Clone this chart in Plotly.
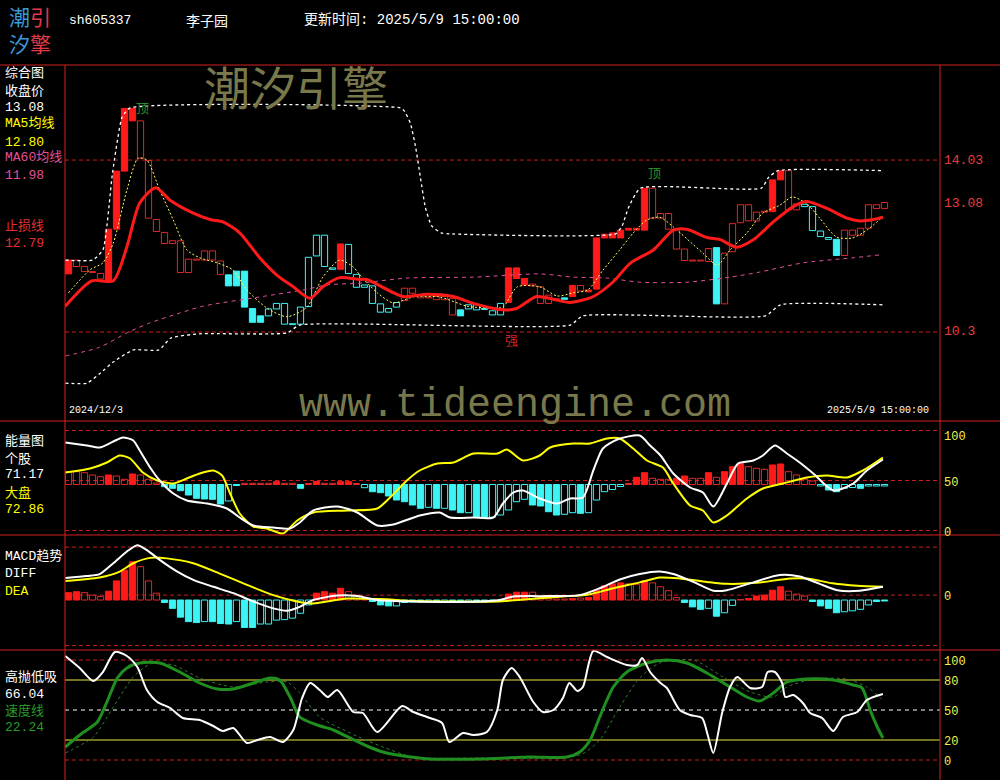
import plotly.graph_objects as go

# ---------------- data ----------------
stock_code = "sh605337"
stock_name = "李子园"
update_time = "2025/5/9 15:00:00"
first_date = "2024/12/3"

# candle bodies (one per trading day), trend state (1 red / -1 cyan), solid body flag
body_top = [11.86, 11.86, 11.72, 11.61, 11.57, 12.53, 13.79, 15.15, 15.15, 14.88,
            14.02, 12.74, 12.46, 12.28, 12.28, 11.88, 11.88, 12.06, 12.06, 11.84,
            11.54, 11.62, 11.62, 10.81, 10.65, 10.80, 10.92, 10.92, 10.48, 10.84,
            11.92, 12.40, 12.40, 11.69, 12.21, 12.20, 11.55, 11.32, 11.30, 10.91,
            10.81, 10.94, 11.25, 11.25, 11.10, 11.06, 11.07, 11.07, 11.03, 10.78,
            10.89, 10.89, 10.81, 10.76, 10.92, 11.69, 11.69, 11.46, 11.34, 11.28,
            11.10, 11.02, 11.04, 11.31, 11.31, 11.21, 12.34, 12.42, 12.45, 12.51,
            12.55, 12.55, 13.42, 13.42, 12.87, 12.87, 12.53, 12.10, 11.86, 11.86,
            12.11, 12.13, 12.01, 12.65, 13.06, 13.06, 12.90, 12.92, 13.60, 13.80,
            13.80, 13.08, 13.07, 13.02, 12.49, 12.35, 12.31, 12.51, 12.51, 12.55,
            13.06, 13.06, 13.11]
body_bot = [11.56, 11.72, 11.61, 11.59, 11.45, 11.39, 12.53, 13.79, 14.88, 14.07,
            12.77, 12.48, 12.22, 12.22, 11.59, 11.59, 11.86, 11.86, 11.86, 11.55,
            11.30, 11.30, 10.84, 10.51, 10.51, 10.65, 10.80, 10.47, 10.46, 10.47,
            10.85, 11.95, 11.72, 11.66, 11.66, 11.57, 11.27, 11.27, 10.92, 10.73,
            10.73, 10.84, 10.98, 11.14, 11.04, 11.04, 11.00, 11.00, 10.67, 10.65,
            10.80, 10.78, 10.79, 10.67, 10.67, 10.94, 11.46, 11.32, 11.30, 10.92,
            10.92, 11.00, 11.01, 11.07, 11.19, 11.17, 11.23, 12.34, 12.34, 12.34,
            12.51, 12.51, 12.51, 12.77, 12.77, 12.53, 12.10, 11.85, 11.84, 11.84,
            11.83, 10.91, 10.91, 12.04, 12.67, 12.71, 12.71, 12.90, 12.91, 13.60,
            12.95, 12.95, 13.02, 12.50, 12.37, 12.31, 11.96, 11.96, 12.40, 12.40,
            12.55, 12.98, 12.98]
trend = [1, 1, 1, 1, 1, 1, 1, 1, 1, 1,
         1, 1, 1, 1, 1, 1, 1, 1, 1, 1,
         -1, -1, -1, -1, -1, -1, -1, -1, -1, -1,
         -1, -1, -1, -1, 1, -1, -1, -1, -1, -1,
         -1, -1, 1, 1, 1, 1, 1, 1, 1, -1,
         -1, -1, -1, -1, -1, 1, 1, 1, 1, 1,
         1, 1, -1, 1, 1, 1, 1, 1, 1, 1,
         1, 1, 1, 1, 1, 1, 1, 1, 1, 1,
         1, -1, 1, 1, 1, 1, 1, 1, 1, 1,
         1, 1, -1, -1, -1, -1, -1, 1, 1, 1,
         1, 1, 1]
solid = [1, 0, 0, 0, 0, 1, 1, 1, 1, 0,
         0, 0, 0, 0, 0, 0, 0, 0, 0, 0,
         1, 1, 1, 1, 1, 0, 0, 0, 0, 0,
         0, 0, 0, 0, 1, 0, 0, 0, 0, 0,
         0, 0, 0, 0, 0, 0, 0, 0, 0, 1,
         0, 0, 0, 0, 0, 1, 1, 1, 0, 0,
         0, 0, 1, 1, 0, 1, 1, 1, 1, 1,
         1, 1, 1, 0, 0, 0, 0, 0, 0, 0,
         0, 1, 0, 0, 0, 0, 0, 0, 1, 1,
         0, 0, 0, 0, 0, 0, 1, 0, 0, 0,
         0, 0, 0]

# main-panel lines, sampled at candle positions
ma5_i = [0, 2.7, 4.3, 5.6, 7.3, 8.7, 9.8, 11.4, 13.1, 14.8, 16.4, 18.6, 20.6, 22.3, 24.8, 27.3,
         29.8, 31.8, 33.9, 35.6, 36.4, 38.6, 40.6, 43.1, 46.4, 49.8, 52.7, 54.3, 56.1, 58.9, 61.1,
         63.1, 64.9, 66.8, 68.9, 70.6, 72.3, 73.9, 75.6, 77.3, 79.3, 81.1, 82.7, 84.8, 86.8, 88.9,
         90.5, 92.3, 93.9, 96.0, 98.0, 99.8, 101.8]
ma5_v = [11.15, 11.65, 11.80, 12.23, 13.38, 14.07, 14.03, 13.38, 12.73, 12.08, 11.91, 11.80, 11.64,
         11.21, 10.82, 10.63, 10.84, 11.49, 11.86, 11.71, 11.54, 11.15, 10.93, 11.06, 11.06, 10.86,
         10.82, 10.84, 11.28, 11.28, 11.08, 11.15, 11.21, 11.64, 12.08, 12.45, 12.73, 12.79, 12.58,
         12.32, 12.01, 11.75, 12.08, 12.45, 12.88, 13.05, 13.23, 13.08, 12.77, 12.36, 12.34, 12.51,
         12.80]
stop_i = [-0.4, 2.9, 5.6, 7.3, 8.9, 10.9, 12.7, 15.6, 17.7, 19.3, 21.4, 23.9, 26.0, 28.1, 30.2,
          31.8, 33.9, 36.4, 37.3, 41.8, 44.8, 48.1, 50.6, 54.3, 56.0, 58.5, 60.6, 62.7, 65.6, 68.1,
          70.2, 73.1, 75.6, 77.3, 79.8, 81.4, 83.5, 85.6, 88.1, 90.6, 92.3, 94.8, 97.3, 98.9, 100.6,
          101.8]
stop_v = [10.86, 11.41, 11.41, 12.15, 13.10, 13.43, 13.16, 12.88, 12.74, 12.69, 12.45, 11.91, 11.54,
          11.28, 11.03, 11.28, 11.48, 11.44, 11.44, 11.07, 11.12, 11.07, 10.92, 10.78, 10.81, 11.07,
          11.01, 10.94, 11.07, 11.39, 11.79, 12.08, 12.51, 12.53, 12.35, 12.31, 12.14, 12.30, 12.69,
          13.02, 13.13, 12.98, 12.77, 12.71, 12.74, 12.79]
ma60_i = [-0.4, 3.9, 7.3, 10.2, 13.9, 16.8, 23.9, 29.3, 32.3, 36.4, 42.3, 50.6, 58.9, 63.1, 67.3,
          71.4, 77.3, 82.7, 86.4, 91.8, 98.1, 101.8]
ma60_v = [9.78, 9.97, 10.28, 10.50, 10.71, 10.86, 11.06, 11.21, 11.32, 11.36, 11.47, 11.49, 11.56,
          11.49, 11.47, 11.38, 11.38, 11.49, 11.60, 11.80, 11.91, 11.98]
res_i = [-0.4, 3.0, 4.3, 5.5, 6.7, 7.7, 41.5, 42.0, 42.75, 43.4, 44.0, 44.6, 45.4, 46.6, 47.5,
         68.4, 69.2, 70.0, 71.5, 86.6, 87.5, 88.7, 101.8]
res_v = [11.86, 11.86, 12.08, 13.75, 14.96, 15.16, 15.16, 15.09, 14.82, 14.30, 13.64, 13.01, 12.60,
         12.45, 12.43, 12.43, 12.60, 13.00, 13.42, 13.42, 13.65, 13.80, 13.80]
sup_i = [-0.4, 2.3, 4.0, 5.6, 8.1, 11.3, 12.8, 16.4, 27.3, 28.9, 62.7, 64.3, 87.1, 89.0, 101.8]
sup_v = [9.19, 9.19, 9.41, 9.65, 9.91, 9.91, 10.17, 10.26, 10.28, 10.45, 10.45, 10.65, 10.65,
         10.89, 10.89]
price_ticks = ["14.03", "13.08", "10.3"]
price_grid = [14.03, 10.3]
signals = [("顶", 9.3, 15.18, "top"), ("顶", 73.3, 13.75, "top"), ("强", 55.4, 10.13, "strong")]

# energy panel
energy_bar = [58.8, 58.8, 57.8, 55.5, 53.8, 55.5, 54.5, 51.2, 56.5, 55.5,
              51.2, 47.5, 43.8, 42.2, 39.8, 35.5, 32.2, 31.5, 31.2, 26.5,
              29.5, 45.0, 47.2, 47.2, 47.2, 47.2, 48.8, 47.2, 47.2, 42.2,
              47.0, 49.0, 47.2, 47.2, 48.8, 48.8, 47.0, 42.8, 38.8, 37.8,
              34.5, 30.5, 28.8, 25.5, 22.2, 23.2, 22.2, 22.2, 20.5, 17.8,
              17.8, 13.8, 13.2, 13.2, 15.5, 20.5, 28.8, 31.2, 25.5, 24.5,
              18.8, 15.5, 16.2, 17.8, 17.2, 17.8, 30.5, 38.8, 41.0, 44.0,
              47.0, 53.2, 57.8, 52.2, 51.2, 51.2, 52.2, 54.5, 52.2, 52.2,
              57.8, 53.2, 58.8, 63.8, 67.2, 63.8, 62.2, 61.2, 65.5, 66.5,
              58.8, 55.5, 51.2, 49.5, 44.5, 40.5, 38.8, 42.2, 43.0, 42.2,
              44.5, 44.5, 44.5]
energy_solid = [0, 0, 0, 0, 0, 1, 0, 0, 1, 0,
                0, 0, 1, 1, 1, 1, 1, 1, 1, 1,
                0, 1, 0, 0, 0, 0, 1, 0, 0, 1,
                0, 1, 0, 0, 1, 1, 0, 0, 1, 1,
                1, 1, 1, 1, 1, 0, 1, 0, 1, 1,
                0, 1, 1, 0, 0, 0, 0, 0, 1, 1,
                1, 1, 0, 0, 1, 0, 0, 0, 0, 0,
                0, 1, 1, 0, 0, 0, 1, 1, 0, 0,
                1, 0, 1, 1, 1, 0, 0, 0, 1, 1,
                0, 0, 0, 0, 0, 1, 1, 0, 0, 1,
                0, 0, 0]
energy_base = 46
stock_i = [-0.4, 2.3, 3.9, 5.6, 6.8, 8.1, 8.9, 10.2, 11.4, 13.1, 14.8, 17.3, 19.8, 21.4, 23.1,
           25.6, 27.7, 28.9, 30.6, 33.6, 36.1, 38.6, 40.6, 43.9, 46.4, 47.7, 50.6, 53.1, 54.3, 55.6,
           56.8, 58.9, 61.1, 62.7, 64.3, 65.6, 66.8, 68.6, 71.4, 72.7, 74.0, 75.6, 77.7, 79.3, 80.6,
           82.3, 83.7, 85.6, 86.8, 88.3, 89.8, 91.4, 93.1, 95.6, 98.1, 99.8, 101.8]
stock_v = [88, 85, 83, 89, 93, 90, 80, 63, 50, 37, 30, 27, 22, 13, 5, 3, 2, 8, 20, 24, 18, 5, 6, 15,
           18, 13, 13, 13, 27, 38, 40, 32, 27, 32, 33, 60, 82, 91, 95, 85, 75, 57, 43, 38, 24, 47, 67,
           70, 75, 85, 77, 68, 57, 40, 47, 60, 71]
market_i = [-0.4, 2.7, 4.8, 6.4, 7.7, 9.3, 11.1, 13.1, 14.8, 16.4, 18.1, 19.2, 20.2, 21.4, 23.1,
            24.8, 26.8, 28.6, 30.6, 34.8, 38.6, 40.2, 42.3, 43.9, 46.1, 48.1, 50.6, 53.6, 54.8, 56.8,
            58.9, 60.2, 63.1, 65.2, 67.3, 68.9, 70.6, 72.3, 74.3, 75.6, 77.7, 79.3, 80.6, 82.3, 84.8,
            86.8, 89.3, 92.3, 94.8, 97.3, 99.3, 101.8]
market_v = [58, 62, 68, 75, 72, 58, 50, 47, 52, 57, 60, 55, 37, 17, 4, 2, -3, 10, 18, 20, 22, 33, 50,
            60, 67, 68, 77, 77, 81, 70, 75, 83, 87, 87, 92, 92, 82, 70, 63, 47, 25, 20, 8, 15, 32, 42,
            47, 53, 55, 53, 60, 73]

# MACD panel
macd_bar = [0.15, 0.17, 0.15, 0.10, 0.07, 0.18, 0.39, 0.61, 0.78, 0.68,
            0.39, 0.14, -0.05, -0.17, -0.35, -0.44, -0.46, -0.44, -0.44, -0.48,
            -0.49, -0.44, -0.56, -0.56, -0.49, -0.49, -0.41, -0.40, -0.37, -0.27,
            -0.10, 0.14, 0.17, 0.14, 0.24, 0.17, 0.10, 0.02, -0.03, -0.10,
            -0.12, -0.12, -0.05, -0.04, -0.04, -0.03, -0.03, -0.03, -0.04, -0.04,
            -0.03, -0.04, -0.04, -0.03, -0.02, 0.12, 0.16, 0.16, 0.16, 0.05,
            0.03, 0.02, 0.02, 0.03, 0.04, 0.05, 0.20, 0.29, 0.33, 0.35,
            0.33, 0.32, 0.39, 0.35, 0.27, 0.19, 0.05, -0.05, -0.14, -0.19,
            -0.17, -0.33, -0.26, -0.11, 0.01, 0.03, 0.08, 0.10, 0.20, 0.27,
            0.18, 0.12, 0.08, -0.03, -0.12, -0.17, -0.26, -0.24, -0.22, -0.19,
            -0.10, -0.03, -0.02]
macd_solid = [1, 1, 0, 0, 0, 1, 1, 1, 1, 0,
              0, 0, 1, 1, 1, 1, 1, 0, 1, 1,
              1, 0, 1, 1, 0, 0, 0, 0, 0, 0,
              0, 1, 1, 1, 1, 0, 0, 0, 1, 1,
              1, 0, 1, 1, 1, 0, 1, 0, 1, 1,
              0, 1, 1, 0, 0, 1, 1, 1, 0, 0,
              0, 0, 0, 1, 0, 1, 1, 1, 1, 1,
              0, 0, 1, 0, 0, 0, 0, 1, 1, 1,
              0, 1, 0, 0, 0, 1, 1, 1, 1, 1,
              0, 0, 0, 1, 1, 1, 1, 0, 0, 0,
              0, 1, 1]
diff_i = [-0.4, 2.3, 3.9, 5.6, 7.3, 8.6, 9.8, 11.4, 13.6, 15.6, 18.1, 20.6, 23.1, 25.6, 27.3, 28.9,
          30.6, 33.6, 36.1, 38.6, 43.1, 51.4, 53.9, 55.6, 59.8, 63.9, 66.4, 68.9, 71.4, 73.9, 75.6,
          78.1, 80.6, 82.3, 85.2, 88.9, 91.4, 93.9, 96.1, 98.9, 101.8]
diff_v = [0.45, 0.49, 0.53, 0.75, 0.99, 1.12, 1.02, 0.82, 0.58, 0.41, 0.27, 0.14, -0.03, -0.17,
          -0.22, -0.14, 0.0, 0.09, 0.08, 0.0, -0.03, -0.03, 0.0, 0.07, 0.08, 0.10, 0.24, 0.42, 0.53,
          0.58, 0.53, 0.37, 0.19, 0.20, 0.34, 0.51, 0.48, 0.33, 0.20, 0.19, 0.27]
dea_i = [-0.4, 3.9, 6.4, 8.1, 10.2, 12.3, 15.6, 18.9, 22.3, 25.6, 28.9, 30.6, 34.8, 38.9, 43.1, 47.3,
         53.6, 57.7, 61.8, 65.2, 68.1, 71.4, 73.9, 76.4, 79.8, 82.3, 86.0, 90.2, 92.3, 95.5, 98.6,
         101.8]
dea_v = [0.39, 0.46, 0.58, 0.75, 0.86, 0.85, 0.75, 0.54, 0.31, 0.10, -0.04, -0.07, 0.03, 0.02, -0.02,
         -0.03, -0.03, 0.02, 0.07, 0.12, 0.24, 0.36, 0.46, 0.44, 0.37, 0.33, 0.35, 0.44, 0.44, 0.34,
         0.29, 0.27]

# high-sell / low-buy panel
hl_i = [-0.4, 1.4, 3.1, 4.3, 5.8, 7.3, 8.6, 9.8, 11.1, 12.7, 14.3, 16.4, 18.1, 19.3, 20.6, 22.3,
        23.6, 25.2, 26.8, 28.1, 29.2, 30.2, 31.4, 32.4, 33.6, 35.6, 36.8, 38.6, 41.7, 43.1, 45.2,
        46.7, 47.6, 49.3, 50.6, 52.3, 53.6, 54.3, 55.4, 56.4, 58.1, 59.3, 60.6, 61.8, 62.6, 63.6,
        64.3, 65.6, 67.3, 69.8, 71.1, 71.7, 72.7, 74.0, 74.8, 76.4, 77.7, 79.2, 79.9, 80.6, 81.7,
        82.7, 83.6, 85.2, 86.7, 87.4, 88.3, 89.2, 89.6, 90.6, 91.8, 92.7, 94.2, 95.6, 96.8, 98.6,
        99.8, 101.8]
hl_v = [104, 92, 79, 88, 108, 104, 93, 70, 58, 52, 42, 40, 34, 29, 32, 17, 20, 23, 18, 30, 62, 77,
        70, 63, 70, 48, 47, 28, 54, 48, 42, 37, 18, 27, 25, 28, 50, 80, 92, 83, 58, 48, 50, 62, 77,
        69, 73, 109, 103, 95, 95, 102, 88, 77, 72, 50, 45, 42, 25, 7, 47, 73, 83, 72, 73, 88, 88,
        77, 63, 65, 57, 47, 42, 29, 43, 48, 60, 66]
speed_i = [-0.4, 1.4, 3.6, 4.8, 6.1, 7.3, 8.9, 11.4, 13.9, 16.4, 18.6, 20.6, 23.1, 25.2, 26.4,
           27.7, 28.9, 31.1, 33.1, 35.2, 37.3, 39.3, 41.1, 45.2, 51.4, 57.7, 62.3, 63.9, 65.2, 66.4,
           68.1, 69.8, 72.3, 74.8, 77.3, 79.8, 82.7, 84.8, 86.4, 88.1, 89.8, 92.3, 95.6, 98.1, 99.2,
           100.2, 101.1, 101.8]
speed_v = [13, 25, 38, 58, 82, 92, 97, 97, 88, 77, 71, 71, 77, 82, 80, 63, 43, 35, 30, 22, 14, 8, 5,
           1, 1, 3, 3, 8, 20, 43, 73, 88, 97, 100, 97, 87, 73, 63, 59, 67, 78, 81, 80, 75, 72, 50,
           33, 22]
speed2_i = [-0.4, 3.1, 5.6, 8.1, 10.2, 13.1, 16.4, 20.6, 24.8, 27.3, 28.9, 31.4, 35.2, 39.3, 43.1,
            51.4, 63.9, 66.4, 68.9, 71.4, 73.9, 78.1, 81.8, 85.2, 88.1, 89.8, 93.1, 97.3, 99.8,
            101.8]
speed2_v = [7, 23, 53, 83, 96, 95, 82, 73, 78, 78, 67, 43, 27, 13, 3, 2, 5, 20, 53, 82, 97, 100, 83,
            68, 63, 73, 81, 81, 73, 60]

latest = {"close": "13.08", "ma5": "12.80", "ma60": "11.98", "stop": "12.79",
          "stock": "71.17", "market": "72.86", "hl": "66.04", "speed": "22.24"}

# ---------------- layout helpers ----------------
W, H = 1000, 780
PL, PR = 65, 940                 # plot area left / right (px)
TOP, S1, S2, S3 = 65, 421, 535, 650  # panel borders (px)


def fx(px):
    return px / W


def fy(py):
    return 1 - py / H


RED = "#ff1a1a"
RED_EDGE = "#e02828"
CYAN = "#3cf4f4"
GRID = "#c81e1e"
SEP = "#d42020"
YEL = "#ffff00"
WHITE = "#ffffff"
PINK = "#e0509a"
GREEN = "#1f8f1f"
MONO = "Liberation Mono, Noto Sans CJK SC, monospace"
CJK = "Noto Sans CJK SC, sans-serif"

fig = go.Figure()
idx = list(range(len(body_top)))

# candles
for t in (1, -1):
    for s in (1, 0):
        sel = [i for i in idx if trend[i] == t and solid[i] == s]
        if not sel:
            continue
        edge = (RED if s else RED_EDGE) if t == 1 else CYAN
        fill = (RED if t == 1 else CYAN) if s else "rgba(0,0,0,0)"
        fig.add_trace(go.Bar(
            x=sel, y=[body_top[i] - body_bot[i] for i in sel], base=[body_bot[i] for i in sel],
            width=0.78, marker=dict(color=fill, line=dict(color=edge, width=1)),
            xaxis="x", yaxis="y", hoverinfo="skip"))


def line(xs, ys, axis, color, width, dash="solid", smooth=0.7):
    fig.add_trace(go.Scatter(x=xs, y=ys, mode="lines", xaxis="x", yaxis=axis,
                             line=dict(color=color, width=width, dash=dash, shape="spline",
                                       smoothing=smooth),
                             hoverinfo="skip"))


line(ma60_i, ma60_v, "y", PINK, 1, "4px,4px")
line(res_i, res_v, "y", WHITE, 1.3, "3px,3px", 0.5)
line(sup_i, sup_v, "y", WHITE, 1.3, "3px,3px", 0.5)
line(ma5_i, ma5_v, "y", "#ffff60", 1, "2px,2px")
line(stop_i, stop_v, "y", RED, 3)


# signed histogram bars (energy / MACD)
def hist(values, solids, base, axis):
    for up in (True, False):
        for s in (1, 0):
            sel = [i for i in idx if (values[i] >= base) == up and solids[i] == s]
            if not sel:
                continue
            col = RED if up else CYAN
            edge = (RED if s else RED_EDGE) if up else CYAN
            fig.add_trace(go.Bar(
                x=sel, y=[values[i] - base for i in sel], base=[base] * len(sel), width=0.78,
                marker=dict(color=col if s else "rgba(0,0,0,0)", line=dict(color=edge, width=1)),
                xaxis="x", yaxis=axis, hoverinfo="skip"))


hist(energy_bar, energy_solid, energy_base, "y2")
line(market_i, market_v, "y2", YEL, 2)
line(stock_i, stock_v, "y2", WHITE, 2)

hist(macd_bar, macd_solid, 0, "y3")
line(dea_i, dea_v, "y3", YEL, 2)
line(diff_i, diff_v, "y3", WHITE, 2)

line(speed2_i, speed2_v, "y4", "#2e7d2e", 1, "3px,3px")
line(speed_i, speed_v, "y4", GREEN, 3)
line(hl_i, hl_v, "y4", WHITE, 2)

# ---------------- shapes ----------------
shapes = []
for py in (TOP, S1, S2, S3):
    shapes.append(dict(type="line", xref="paper", yref="paper", x0=0, x1=1, y0=fy(py), y1=fy(py),
                       line=dict(color=SEP, width=1)))
for px in (PL, PR):
    shapes.append(dict(type="line", xref="paper", yref="paper", x0=fx(px), x1=fx(px), y0=fy(TOP),
                       y1=0, line=dict(color=SEP, width=1)))


def hline(v, axis, color, dash, width=1):
    shapes.append(dict(type="line", xref="paper", yref=axis, x0=fx(PL), x1=fx(PR), y0=v, y1=v,
                       line=dict(color=color, width=width, dash=dash), layer="below"))


for v in price_grid:
    hline(v, "y", GRID, "4px,3px")
for v in (100, 50, 0):
    hline(v, "y2", GRID, "4px,3px")
for v in (1.08, 0.10, -0.93):
    hline(v, "y3", GRID, "4px,3px")
hline(100, "y4", GRID, "4px,3px")
hline(0, "y4", GRID, "4px,3px")
hline(80, "y4", "#e8e840", "solid")
hline(20, "y4", "#e8e840", "solid")
hline(50, "y4", WHITE, "4px,4px")

# ---------------- annotations ----------------
ann = []


def text_px(t, x, y, color, size=13, font=MONO, xanchor="left"):
    ann.append(dict(text=t, x=fx(x), y=fy(y), xref="paper", yref="paper", showarrow=False,
                    xanchor=xanchor, yanchor="middle", font=dict(color=color, size=size, family=font)))


# logo (two lines in one text block)
BLUE_L, RED_L = "#3a9ad8", "#e03a48"
logo = ("<span style='color:%s'>潮</span><span style='color:%s'>引</span><br>"
        "<span style='color:%s'>汐</span><span style='color:%s'>擎</span>"
        % (BLUE_L, RED_L, BLUE_L, RED_L))
ann.append(dict(text=logo, x=fx(30), y=fy(30), xref="paper", yref="paper", showarrow=False,
                xanchor="center", yanchor="middle", align="center",
                font=dict(color=BLUE_L, size=21, family=CJK)))
# header
text_px(stock_code, 67, 20, WHITE, 13)
text_px(stock_name, 184, 20, WHITE, 14, CJK)
text_px("更新时间: " + update_time, 302, 20, WHITE, 14)
# watermarks
text_px("潮汐引擎", 296, 85, "#78784c", 46, CJK, "center")
text_px("www.tideengine.com", 515, 405, "#78784c", 40, MONO, "center")
# date labels
text_px(first_date, 67, 410, WHITE, 10)
text_px(update_time, 825, 410, WHITE, 10)

# left legends
left = [("综合图", 73, WHITE), ("收盘价", 91, WHITE), (latest["close"], 108, WHITE),
        ("MA5均线", 124, YEL), (latest["ma5"], 142, YEL), ("MA60均线", 158, PINK),
        (latest["ma60"], 176, PINK), ("止损线", 226, "#e03030"), (latest["stop"], 243, "#e03030"),
        ("能量图", 441, WHITE), ("个股", 459, WHITE), (latest["stock"], 475, WHITE),
        ("大盘", 493, YEL), (latest["market"], 509, YEL),
        ("MACD趋势", 556, WHITE), ("DIFF", 573, WHITE), ("DEA", 591, YEL),
        ("高抛低吸", 677, WHITE), (latest["hl"], 694, WHITE), ("速度线", 711, "#2a9a2a"),
        (latest["speed"], 727, "#2a9a2a")]
for t, y, c in left:
    text_px(t, 3, y, c, 13)


def right_label(t, v, axis, color, size, shift=0):
    ann.append(dict(text=t, x=fx(PR + 2), y=v, xref="paper", yref=axis, showarrow=False,
                    xanchor="left", yanchor="middle", yshift=shift,
                    font=dict(color=color, size=size, family=MONO)))


for t in price_ticks:
    right_label(t, float(t), "y", "#e83c3c", 13)
right_label("100", 100, "y2", "#f0f050", 12, -6)
right_label("50", 50, "y2", "#f0f050", 12, -2)
right_label("0", 0, "y2", "#f0f050", 12, -2)
right_label("0", 0.10, "y3", "#f0f050", 12, -2)
for v in (100, 80, 50, 20, 0):
    right_label(str(v), v, "y4", "#f0f050", 12, -2)

for t, i, p, kind in signals:
    ann.append(dict(text=t, x=i, y=p, xref="x", yref="y", showarrow=False,
                    font=dict(color="#2a8a2a" if kind == "top" else "#d02020", size=13, family=CJK)))

fig.update_layout(
    width=W, height=H, margin=dict(l=0, r=0, t=0, b=0),
    paper_bgcolor="black", plot_bgcolor="black", barmode="overlay", showlegend=False,
    hovermode=False,
    xaxis=dict(domain=[fx(PL), fx(PR)], range=[-0.4375, 108.9375], visible=False, anchor="y4",
               fixedrange=True),
    yaxis=dict(domain=[fy(S1), fy(TOP)], range=[8.369, 16.092], visible=False),
    yaxis2=dict(domain=[fy(S2), fy(S1)], range=[-4.5, 109.5], visible=False),
    yaxis3=dict(domain=[fy(S3), fy(S2)], range=[-1.020, 1.327], visible=False),
    yaxis4=dict(domain=[0, fy(S3)], range=[-20, 110], visible=False),
    shapes=shapes, annotations=ann,
)

fig.write_html("out.html", config={"displayModeBar": False},
               post_script="document.body.style.margin='0';"
                           "document.body.style.overflow='hidden';")
